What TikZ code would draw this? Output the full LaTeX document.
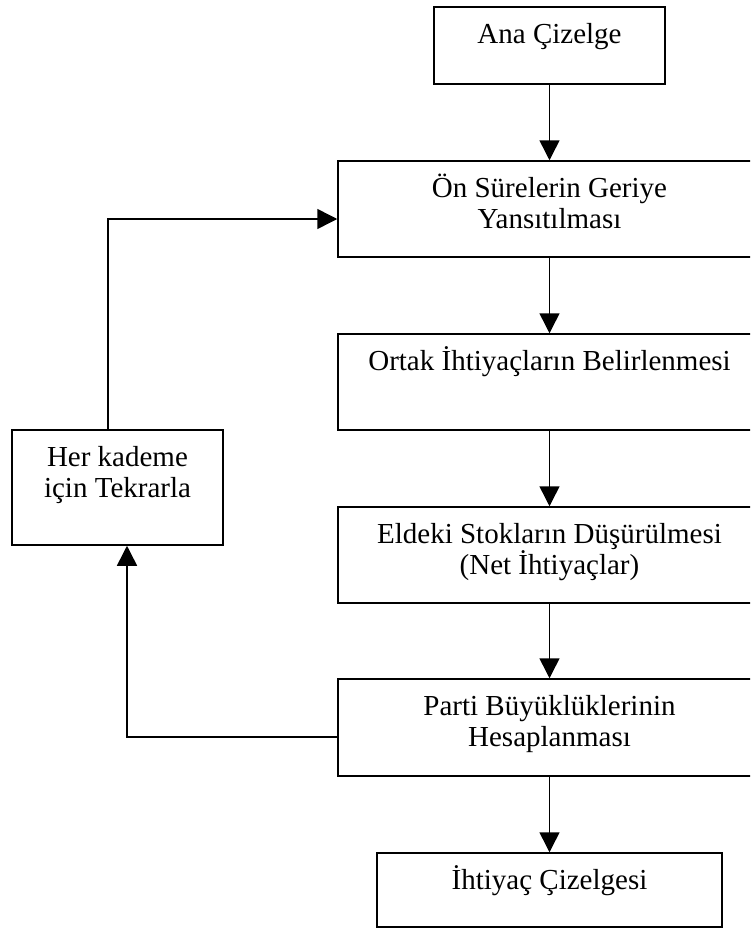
\documentclass[tikz,border=0pt]{standalone}
\usepackage{fontspec}
\setmainfont{Liberation Serif}
\usetikzlibrary{arrows.meta}
\usetikzlibrary{calc}

\tikzset{
	blok/.style={draw, line width=1.5pt, inner sep=0pt},
	yazi/.style={anchor=north, inner sep=0pt, align=center, font=\fontsize{29}{31}\selectfont},
	ok/.style={line width=1.5pt, -{Triangle[length=20pt,width=20pt]}}
}
\newcommand{\ust}{\rule{0pt}{27pt}}
\newcommand{\kutu}[6] % ad, sol x, ust y, sag x, alt y, yazi
{
	% cerceve
	\node[blok, minimum width={#4-#2}, minimum height={#5-#3}] (#1) at ({(#2+#4)/2},{(#3+#5)/2}) {};
	% yazi
	\node[yazi] (#1-y) at ($(#1.north)+(0,10)$) {\ust #6};
}

\begin{document}
\begin{tikzpicture}[x=1pt, y=-1pt]
	% 750 x 929, y asagi
	\useasboundingbox (0,0) rectangle (750,929);
	\clip (0,0) rectangle (750,929);
	\kutu{ana}{434}{7}{665}{84}{Ana Çizelge};
	\kutu{sure}{338}{161}{761}{257}{Ön Sürelerin Geriye\\Yansıtılması};
	\kutu{ortak}{338}{334}{761}{430}{Ortak İhtiyaçların Belirlenmesi};
	\kutu{stok}{338}{507}{761}{603}{Eldeki Stokların Düşürülmesi\\(Net İhtiyaçlar)};
	\kutu{parti}{338}{679}{761}{776}{Parti Büyüklüklerinin\\Hesaplanması};
	\kutu{cizelge}{377}{853}{722}{927}{İhtiyaç Çizelgesi};
	\kutu{tekrar}{12}{430}{223}{545}{Her kademe\\için Tekrarla};
	
	% ana akis
	\draw[ok] (ana) -- (sure);
	\draw[ok] (sure) -- (ortak);
	\draw[ok] (ortak) -- (stok);
	\draw[ok] (stok) -- (parti);
	\draw[ok] (parti) -- (cizelge);
	
	% geri donus
	\coordinate (g1) at (108,219);
	\coordinate (g2) at (127,737);
	\draw[ok] (g1 |- tekrar.north) -- (g1) -- (g1 -| sure.west);
	\draw[ok] (g2 -| parti.west) -- (g2) -- (g2 |- tekrar.south);
\end{tikzpicture}
\end{document}
